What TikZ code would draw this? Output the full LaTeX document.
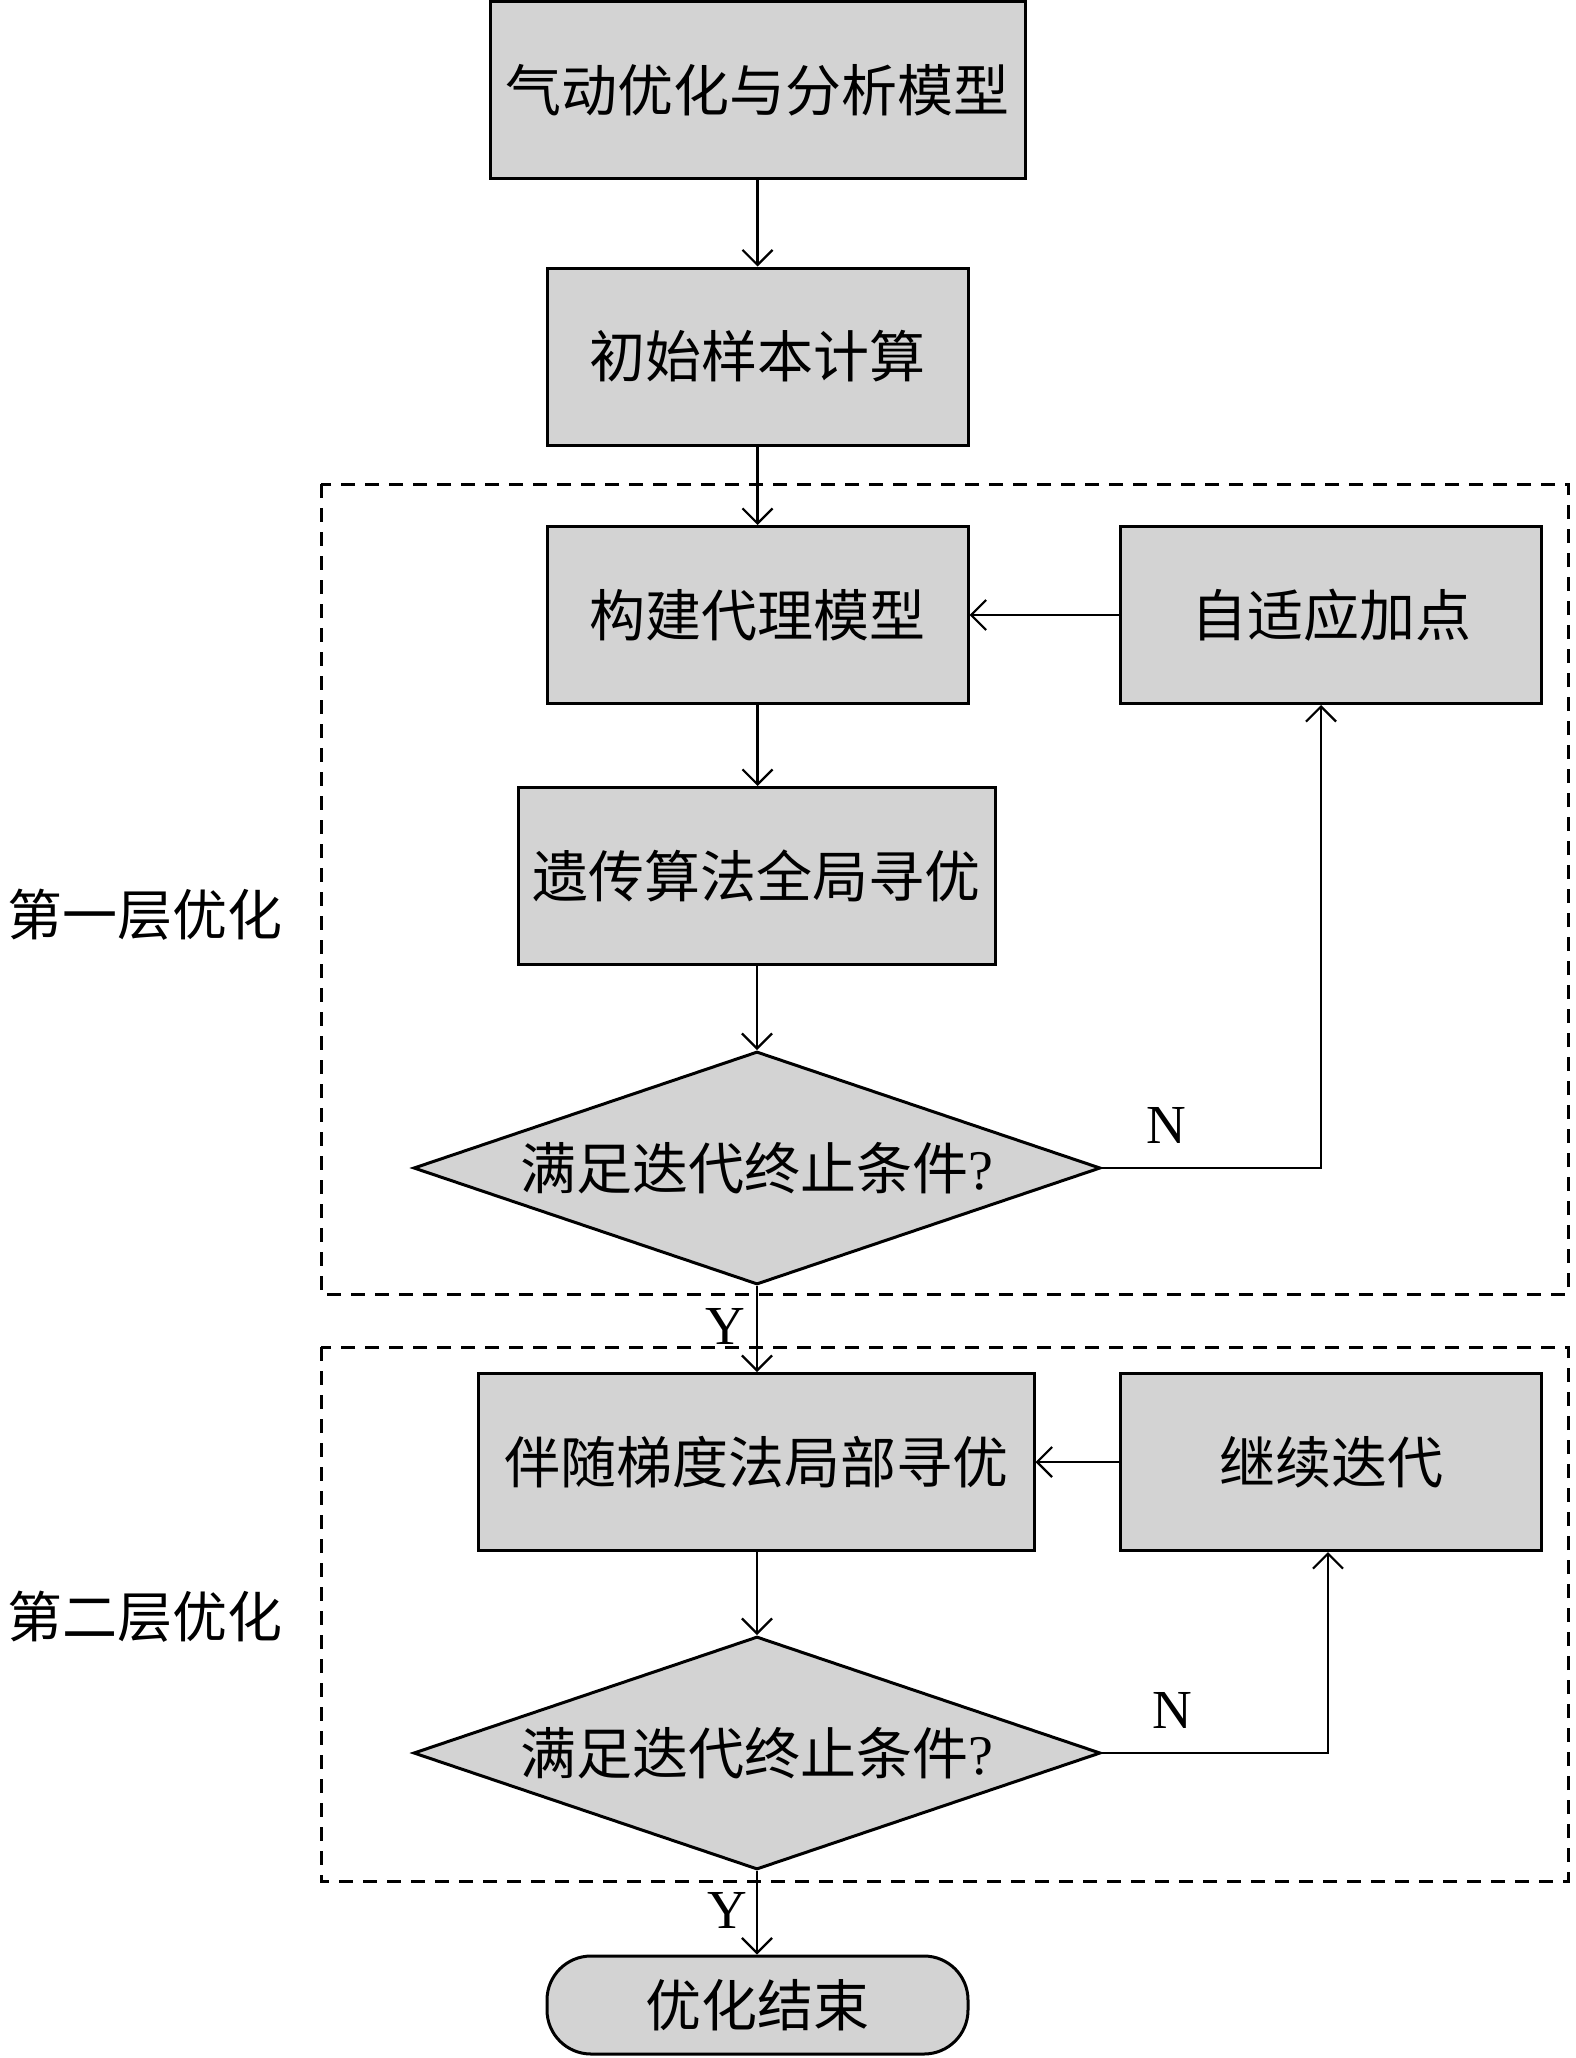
\documentclass[tikz,border=0pt]{standalone}
\usepackage{fontspec}
\setmainfont{Liberation Serif}
\newfontfamily\cjk{Noto Sans CJK SC}
\usetikzlibrary{arrows.meta,shapes.geometric,calc}
\definecolor{boxgray}{RGB}{211,211,211}
\begin{document}
\begin{tikzpicture}[x=1pt,y=-1pt,
  box/.style={draw=black, line width=3pt, fill=boxgray, inner sep=0pt,
    font=\cjk\fontsize{56}{60}\selectfont, minimum height=177pt, minimum width=421pt},
  decision/.style={draw=black, line width=3pt, fill=boxgray, shape=diamond, inner sep=0pt,
    aspect=2.95, minimum width=687pt, minimum height=233pt,
    font=\cjk\fontsize{56}{60}\selectfont},
  term/.style={draw=black, line width=3pt, fill=boxgray, inner sep=0pt, rounded corners=44pt,
    minimum width=421pt, minimum height=98pt, font=\cjk\fontsize{56}{60}\selectfont},
  arr/.style={line width=2.2pt, -{Straight Barb[length=15pt,width=30pt,line width=2.2pt]}},
  zone/.style={draw=black, line width=3pt, dash pattern=on 14pt off 10pt},
  side/.style={font=\cjk\fontsize{55}{60}\selectfont},
  yn/.style={font=\fontsize{55}{60}\selectfont}]
\useasboundingbox (0,0) rectangle (1575,2058);

% dashed zones
\draw[zone] (321,484) rectangle (1568,1294);
\draw[zone] (321,1347) rectangle (1568,1881);

% nodes
\node[box, minimum width=535pt] (b1) at (757.5,90) {气动优化与分析模型};
\node[box] (b2) at (757.5,356.5) {初始样本计算};
\node[box] (b3) at (757.5,615) {构建代理模型};
\node[box] (b4) at (1331,615) {自适应加点};
\node[box, minimum width=477pt] (b5) at (756.5,876) {遗传算法全局寻优};
\node[decision] (d1) at (757,1168) {满足迭代终止条件\rmfamily ?};
\node[box, minimum width=556pt] (b6) at (756,1462) {伴随梯度法局部寻优};
\node[box] (b7) at (1331,1462) {继续迭代};
\node[decision] (d2) at (757,1753) {满足迭代终止条件\rmfamily ?};
\node[term] (e) at (757.5,2005) {优化结束};

\node[side, anchor=west] (l1) at (4,915) {第一层优化};
\node[side, anchor=west] (l2) at (4,1617) {第二层优化};

\node[yn] (n1) at (1166,1125) {N};
\node[yn] (n2) at (1172,1710) {N};
\node[yn] (y1) at (725,1326) {Y};
\node[yn] (y2) at (727,1910) {Y};

% connectors
\draw[arr] (b1.south) -- (b2.north);
\draw[arr] (b2.south) -- (b3.north);
\draw[arr] (b3.south) -- (b5.north -| b3.south);
\draw[arr] (b5.south -| d1.north) -- (d1.north);
\draw[arr] (d1.south) -- (b6.north -| d1.south);
\draw[arr] (b6.south -| d2.north) -- (d2.north);
\draw[arr] (d2.south) -- (e.north -| d2.south);
\draw[arr] (b4.west) -- (b3.east);
\draw[arr] (b7.west) -- (b6.east);

\coordinate (c1) at (1321,1168);
\draw[arr] (d1.east) -- (c1) -- (c1 |- b4.south);
\coordinate (c2) at (1328,1753);
\draw[arr] (d2.east) -- (c2) -- (c2 |- b7.south);
\end{tikzpicture}
\end{document}
